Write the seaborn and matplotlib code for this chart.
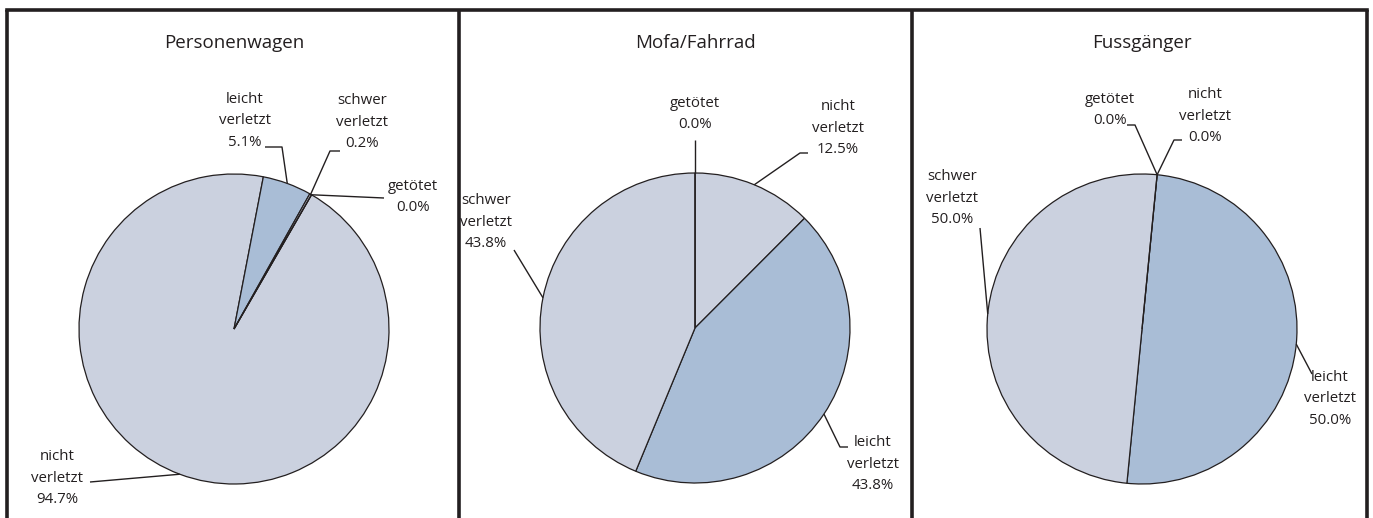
import numpy as np
import matplotlib
matplotlib.use("Agg")
import matplotlib.pyplot as plt
import seaborn as sns

# ---------------- data ----------------
titles = ["Personenwagen", "Mofa/Fahrrad", "Fussgänger"]
categories = ["nicht\nverletzt", "leicht\nverletzt", "schwer\nverletzt", "getötet"]
pkw_values = [94.7, 5.1, 0.2, 0.0]
velo_values = [12.5, 43.8, 43.8, 0.0]
fuss_values = [0.0, 50.0, 50.0, 0.0]
all_values = [pkw_values, velo_values, fuss_values]

# ---------------- style ----------------
sns.set_theme(style="white")
plt.rcParams['font.family'] = ['Open Sans', 'DejaVu Sans']
INK = "#231F20"
LIGHT = "#CBD1DF"
BLUE = "#A9BDD6"
colors = [LIGHT, BLUE, LIGHT, BLUE]

W, H = 1373, 518
fig = plt.figure(figsize=(W / 100, H / 100), dpi=100)
ax = fig.add_axes([0, 0, 1, 1])

def Y(y):
    return H - y

# layout (pixel coordinates, image-style y)
centers = [(234, 329), (695, 328), (1142, 329)]
radius = 155
first_angle = [30, 0, 5.6]  # clockwise from 12 o'clock
title_y = 43

# label layout: text center, leader path points (ending at slice edge)
label_layout = [
    [  # Personenwagen
        ((57, 478), [(90, 482)]),
        ((245, 121), [(265, 147), (282, 147)]),
        ((362, 122), [(340, 151), (330, 151)]),
        ((413, 197), [(384, 198)]),
    ],
    [  # Mofa/Fahrrad
        ((838, 128), [(808, 153), (800, 153)]),
        ((873, 464), [(848, 447), (840, 447)]),
        ((486, 222), [(514, 250)]),
        ((695, 114), [(695, 140)]),
    ],
    [  # Fussgaenger
        ((1205, 116), [(1182, 140), (1174, 140)]),
        ((1330, 399), [(1312, 374)]),
        ((952, 198), [(980, 228)]),
        ((1110, 110), [(1127, 125), (1135, 125)]),
    ],
]

for p in range(3):
    vals = all_values[p]
    cx, cy = centers[p]
    start = first_angle[p]
    ax.pie(vals, colors=colors, center=(cx, Y(cy)), radius=radius,
           counterclock=False, startangle=90 - start,
           wedgeprops=dict(edgecolor=INK, linewidth=0.9), normalize=True)
    ax.text(cx, Y(title_y), titles[p], ha="center", va="center",
            fontsize=13.5, color=INK)
    total = sum(vals)
    cum = 0.0
    for i, v in enumerate(vals):
        mid = start + (cum + v / 2) / total * 360.0
        cum += v
        ex = cx + radius * np.sin(np.radians(mid))
        ey = cy - radius * np.cos(np.radians(mid))
        (tx, ty), path = label_layout[p][i]
        pts = path + [(ex, ey)]
        ax.plot([q[0] for q in pts], [Y(q[1]) for q in pts], color=INK,
                lw=1.0, solid_capstyle="butt")
        ax.text(tx, Y(ty), f"{categories[i]}\n{v:.1f}%", ha="center",
                va="center", multialignment="center", fontsize=10.8,
                linespacing=1.62, color=INK)

# panel frame
frame_lw = 2.6
ax.plot([7, 1367], [Y(10), Y(10)], color=INK, lw=frame_lw, solid_capstyle="projecting")
for x in [7, 459, 912, 1367]:
    ax.plot([x, x], [Y(10), Y(520)], color=INK, lw=frame_lw, solid_capstyle="butt")

ax.set_xlim(0, W)
ax.set_ylim(0, H)
ax.set_aspect("equal")
ax.axis("off")

fig.savefig("out.png", dpi=100, facecolor="white")
